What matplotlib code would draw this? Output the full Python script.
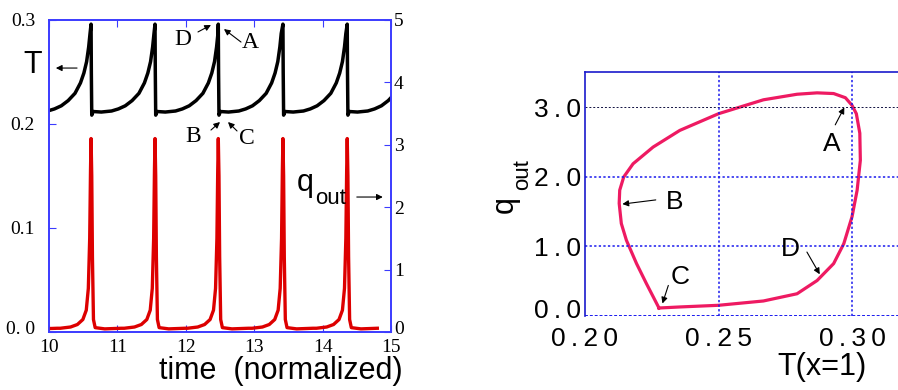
import numpy as np
from matplotlib import pyplot as plt
from matplotlib import transforms

# --- left panel: time traces (one cycle shape, repeated at each read-off peak) ---
peak_times = [9.68, 10.615, 11.55, 12.475, 13.42, 14.36]
cycle_s = [0, 0.004, 0.01, 0.03, 0.15, 0.3, 0.4, 0.5, 0.6, 0.7, 0.78, 0.83, 0.87, 0.90, 0.92]
cycle_T = [0.296, 0.25, 0.2085, 0.212, 0.2115, 0.2125, 0.2145, 0.2175, 0.2225, 0.2295,
           0.2395, 0.249, 0.26, 0.274, 0.287]
q_dt = [-0.45, -0.3, -0.2, -0.12, -0.07, -0.04, -0.02, -0.008, 0, 0.01, 0.02, 0.035, 0.06, 0.2, 0.44]
q_shape = [0.06, 0.08, 0.12, 0.2, 0.35, 0.7, 1.5, 2.6, 3.1, 2.5, 1.2, 0.2, 0.07, 0.05, 0.06]

time_ticks = [10, 11, 12, 13, 14, 15]
T_ticks = [0.0, 0.1, 0.2, 0.3]
T_ticklabels = ['0. 0', '0.1', '0.2', '0.3']
q_ticks = [0, 1, 2, 3, 4, 5]

# --- right panel: q_out vs T(x=1) loop ---
loop_T = [0.2277, 0.2355, 0.25, 0.2668, 0.2794, 0.2869, 0.2931, 0.2969, 0.300, 0.3019,
          0.3031, 0.3029, 0.3016, 0.300, 0.2975, 0.2931, 0.2869, 0.2794, 0.2668, 0.25,
          0.2355, 0.2255, 0.218, 0.2145, 0.213, 0.2128, 0.2136, 0.2155, 0.2193, 0.223, 0.2277]
loop_q = [0.115, 0.13, 0.154, 0.216, 0.32, 0.51, 0.754, 1.04, 1.43, 1.81,
          2.24, 2.63, 2.91, 3.03, 3.14, 3.2, 3.21, 3.19, 3.11, 2.91,
          2.67, 2.43, 2.19, 2.0, 1.81, 1.62, 1.33, 1.09, 0.754, 0.466, 0.115]
phase_xticks = [0.20, 0.25, 0.30]
phase_xlabels = ['0.20', '0.25', '0.30']
phase_yticks = [0.0, 1.0, 2.0, 3.0]
phase_ylabels = ['0.0', '1.0', '2.0', '3.0']

t_T = np.concatenate([p + np.array(cycle_s) for p in peak_times])
v_T = np.concatenate([cycle_T for p in peak_times])
t_q = np.concatenate([p + np.array(q_dt) for p in peak_times])
v_q = np.concatenate([q_shape for p in peak_times])

blue = '#3b3bff'
serif = 'Liberation Serif'
sans = 'Liberation Sans'
thin = '\u2009'


def spaced(s):
    return thin.join(s)


fig = plt.figure(figsize=(8.98, 3.90), dpi=100)

ax1 = fig.add_axes([49 / 898, 58 / 390, 342 / 898, 312 / 390])
ax2 = ax1.twinx()
ax1.plot(t_T, v_T, color='black', lw=2.5, solid_joinstyle='round')
ax2.plot(t_q, v_q, color='#dd0000', lw=2.4)
ax1.set_xlim(10, 15)
ax1.set_ylim(0, 0.3)
ax2.set_ylim(0, 5)

ax1.set_xticks(time_ticks)
ax1.set_xticklabels([str(t) for t in time_ticks], fontfamily=serif, fontsize=14)
ax1.set_yticks(T_ticks)
ax1.set_yticklabels(T_ticklabels, fontfamily=serif, fontsize=14)
ax2.set_yticks(q_ticks)
ax2.set_yticklabels([str(q) for q in q_ticks], fontfamily=serif, fontsize=14)
ax1.tick_params(axis='x', direction='in', top=True, length=5, color=blue, pad=5)
ax1.tick_params(axis='y', direction='in', length=5, color=blue, pad=10)
ax2.tick_params(axis='y', direction='in', length=5, color=blue, pad=2)
up = transforms.ScaledTranslation(0, 4 / 100, fig.dpi_scale_trans)
for lab in (ax1.get_yticklabels()[0], ax2.get_yticklabels()[0]):
    lab.set_transform(lab.get_transform() + up)
for ax in (ax1, ax2):
    for sp in ax.spines.values():
        sp.set_color(blue)
        sp.set_linewidth(1.2)

fig.text(281 / 898, 1 - 371 / 390, 'time  (normalized)', fontfamily=sans, fontsize=22,
         ha='center', va='center')

arr = dict(arrowstyle='-|>', color='black', lw=0.8, mutation_scale=9, shrinkA=0, shrinkB=0)
fig.text(33 / 898, 1 - 65 / 390, 'T', fontfamily=sans, fontsize=22, ha='center', va='center')
ax1.annotate('', xy=(10.10, 0.2538), xytext=(10.41, 0.2538), arrowprops=arr)
ax1.text(11.959, 0.2808, 'D', fontfamily=serif, fontsize=17, ha='center', va='center')
ax1.annotate('', xy=(12.368, 0.2952), xytext=(12.178, 0.2885), arrowprops=arr)
ax1.text(12.939, 0.2779, 'A', fontfamily=serif, fontsize=17, ha='center', va='center')
ax1.annotate('', xy=(12.558, 0.2913), xytext=(12.807, 0.2788), arrowprops=arr)
ax1.text(12.105, 0.1875, 'B', fontfamily=serif, fontsize=17, ha='center', va='center')
ax1.annotate('', xy=(12.50, 0.2019), xytext=(12.368, 0.1942), arrowprops=arr)
ax1.text(12.895, 0.1865, 'C', fontfamily=serif, fontsize=17, ha='center', va='center')
ax1.annotate('', xy=(12.617, 0.2019), xytext=(12.749, 0.1933), arrowprops=arr)

# q_out label of the left panel: "q" plus a large subscript
fig.text(305 / 898, 1 - 183 / 390, 'q', fontfamily=sans, fontsize=22, ha='center', va='center')
fig.text(331 / 898, 1 - 199 / 390, 'out', fontfamily=sans, fontsize=16, ha='center', va='center')
ax2.annotate('', xy=(14.88, 2.163), xytext=(14.50, 2.163), arrowprops=arr)

# --- phase plot ---
ax3 = fig.add_axes([585 / 898, 74 / 390, 313 / 898, 244 / 390])
ax3.plot(loop_T, loop_q, color='#ee1a62', lw=2.3, solid_joinstyle='round')
ax3.set_xlim(0.2, 0.3172)
ax3.set_ylim(0, 3.51)
ax3.set_xticks(phase_xticks)
ax3.set_xticklabels([spaced(s) for s in phase_xlabels], fontfamily=sans, fontsize=19)
ax3.set_yticks(phase_yticks)
ax3.set_yticklabels([spaced(s) for s in phase_ylabels], fontfamily=sans, fontsize=19)
ax3.tick_params(axis='x', length=0, pad=8)
ax3.tick_params(axis='y', length=0, pad=3)
up7 = transforms.ScaledTranslation(0, 7 / 100, fig.dpi_scale_trans)
lab0 = ax3.get_yticklabels()[0]
lab0.set_transform(lab0.get_transform() + up7)
for y in [1.0, 2.0]:
    ax3.axhline(y, color='#1a1aee', lw=1.1, ls=(0, (1.5, 1.5)))
ax3.axhline(3.0, color='#101040', lw=0.7, ls=(0, (2, 2)))
for x in [0.25, 0.30]:
    ax3.axvline(x, color='#1a1aee', lw=1.1, ls=(0, (1.5, 1.5)))
ax3.spines['right'].set_visible(False)
ax3.spines['bottom'].set_visible(False)
ax3.axhline(0.0, color='#1a1aee', lw=1.4, ls=(0, (1.5, 1.0)))
for sp in ('left', 'top'):
    ax3.spines[sp].set_color('#1a1acc')
    ax3.spines[sp].set_linewidth(1.2)

fig.text(505 / 898, 1 - 205 / 390, 'q', fontfamily=sans, fontsize=22, rotation=90,
         ha='center', va='center')
fig.text(523 / 898, 1 - 175 / 390, 'out', fontfamily=sans, fontsize=16, rotation=90,
         ha='center', va='center')
fig.text(822 / 898, 1 - 367 / 390, 'T(x=1)', fontfamily=sans, fontsize=22,
         ha='center', va='center')

ax3.text(0.2925, 2.48, 'A', fontfamily=sans, fontsize=19, ha='center', va='center')
ax3.annotate('', xy=(0.2971, 3.0), xytext=(0.2937, 2.75), arrowprops=arr)
ax3.text(0.2337, 1.64, 'B', fontfamily=sans, fontsize=19, ha='center', va='center')
ax3.annotate('', xy=(0.214, 1.61), xytext=(0.2265, 1.67), arrowprops=arr)
ax3.text(0.2355, 0.56, 'C', fontfamily=sans, fontsize=19, ha='center', va='center')
ax3.annotate('', xy=(0.229, 0.18), xytext=(0.2312, 0.44), arrowprops=arr)
ax3.text(0.2769, 0.97, 'D', fontfamily=sans, fontsize=19, ha='center', va='center')
ax3.annotate('', xy=(0.2879, 0.60), xytext=(0.2831, 0.92), arrowprops=arr)

fig.savefig('out.png', dpi=100)
